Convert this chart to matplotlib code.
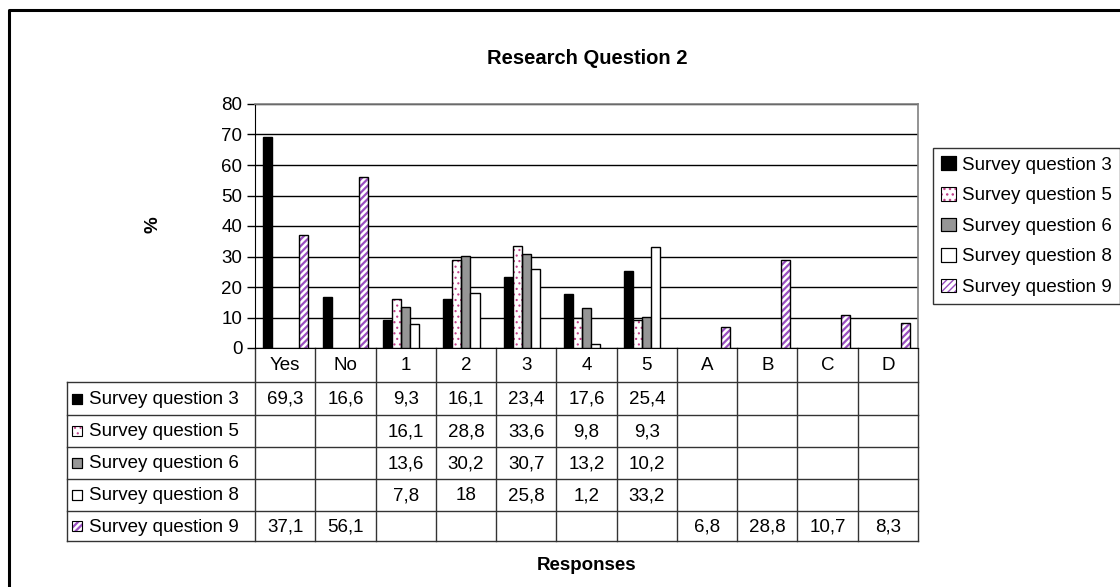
import numpy as np
import matplotlib
matplotlib.use("Agg")
import matplotlib.pyplot as plt
from matplotlib.patches import Rectangle
from matplotlib.legend_handler import HandlerTuple

# ---- data -------------------------------------------------------------
categories = ["Yes", "No", "1", "2", "3", "4", "5", "A", "B", "C", "D"]
series_names = ["Survey question 3", "Survey question 5", "Survey question 6",
                "Survey question 8", "Survey question 9"]
nan = np.nan
q3 = [69.3, 16.6, 9.3, 16.1, 23.4, 17.6, 25.4, nan, nan, nan, nan]
q5 = [nan, nan, 16.1, 28.8, 33.6, 9.8, 9.3, nan, nan, nan, nan]
q6 = [nan, nan, 13.6, 30.2, 30.7, 13.2, 10.2, nan, nan, nan, nan]
q8 = [nan, nan, 7.8, 18, 25.8, 1.2, 33.2, nan, nan, nan, nan]
q9 = [37.1, 56.1, nan, nan, nan, nan, nan, 6.8, 28.8, 10.7, 8.3]
series = [q3, q5, q6, q8, q9]
y_ticks = [0, 10, 20, 30, 40, 50, 60, 70, 80]

# ---- styles -----------------------------------------------------------
styles = [
    dict(face="black", hatch=None, hcolor=None, hlw=1.0),
    dict(face="white", hatch="...", hcolor="#c0408a", hlw=0.8),
    dict(face="#969696", hatch=None, hcolor=None, hlw=1.0),
    dict(face="white", hatch=None, hcolor=None, hlw=1.0),
    dict(face="white", hatch="/////", hcolor="#9a4fc0", hlw=1.6),
]

plt.rcParams["font.family"] = ["Liberation Sans", "DejaVu Sans"]
FS = 13.5

W, H = 1120, 587
fig = plt.figure(figsize=(W / 100, H / 100), dpi=100)

# overlay in pixel coordinates for frame and table
ov = fig.add_axes([0, 0, 1, 1], zorder=0)
ov.set_xlim(0, W)
ov.set_ylim(H, 0)
ov.axis("off")

# plot area
x0, x1, ytop, ybot = 255, 918, 104, 348
ax = fig.add_axes([x0 / W, (H - ybot) / H, (x1 - x0) / W, (ybot - ytop) / H], zorder=2)
ax.set_facecolor("none")


def styled_rect(xy, w, h, st, lw=0.8):
    """Patch pair (fill/hatch + black outline) for legend-style markers."""
    with plt.rc_context({"hatch.linewidth": st["hlw"]}):
        fill = Rectangle(xy, w, h, facecolor=st["face"],
                         edgecolor=st["hcolor"] or "black",
                         hatch=st["hatch"], linewidth=0 if st["hatch"] else lw)
    edge = Rectangle(xy, w, h, facecolor="none", edgecolor="black", linewidth=lw)
    return fill, edge


n = len(categories)
xs = np.arange(n)
bw = 0.15
for k, (vals, st) in enumerate(zip(series, styles)):
    v = np.array(vals, dtype=float)
    pos = xs + (k - 2) * bw
    if st["hatch"]:
        with plt.rc_context({"hatch.linewidth": st["hlw"]}):
            ax.bar(pos, v, bw, color=st["face"], edgecolor=st["hcolor"],
                   hatch=st["hatch"], linewidth=0, zorder=3)
        ax.bar(pos, v, bw, color="none", edgecolor="black", linewidth=1.0, zorder=4)
    else:
        ax.bar(pos, v, bw, color=st["face"], edgecolor="black", linewidth=1.0, zorder=3)

ax.set_xlim(-0.5, n - 0.5)
ax.set_ylim(0, 80)
ax.set_yticks(y_ticks)
ax.set_yticklabels([str(t) for t in y_ticks], fontsize=FS)
ax.set_xticks([])
ax.tick_params(axis="y", direction="out", length=6, width=1, pad=3)
ax.yaxis.grid(True, color="black", linewidth=1.0, zorder=0)
ax.set_axisbelow(True)
for side in ["top", "right"]:
    ax.spines[side].set_color("#808080")
    ax.spines[side].set_linewidth(1.2)
ax.spines["left"].set_color("black")
ax.spines["bottom"].set_color("black")

# legend
handles = [styled_rect((0, 0), 1, 1, st) for st in styles]
leg = fig.legend(handles, series_names, loc="upper left",
                 handler_map={tuple: HandlerTuple(ndivide=1)},
                 bbox_to_anchor=(933 / W, 1 - 148 / H), fontsize=FS,
                 frameon=True, fancybox=False, edgecolor="black",
                 handlelength=0.75, handleheight=0.75, handletextpad=0.35,
                 labelspacing=0.7, borderpad=0.45, borderaxespad=0)
leg.get_frame().set_linewidth(1.0)

# texts
fig.text(587 / W, 1 - 58 / H, "Research Question 2", ha="center", va="center",
         fontsize=14.5, fontweight="bold")
fig.text(153 / W, 1 - 225 / H, "%", ha="center", va="center", rotation=90,
         fontsize=FS, fontweight="bold")
fig.text(587 / W, 1 - 566 / H, "Responses", ha="center", va="center",
         fontsize=FS, fontweight="bold")

# outer frame
ov.plot([9, 9, W + 5], [H + 5, 10, 10], color="black", lw=2.2, solid_capstyle="butt",
        clip_on=False)

# ---- data table under the plot --------------------------------------
cw = (x1 - x0) / n
row_y = [348, 382, 415, 447, 479, 511, 541]
lab_x = 67
lc = "#333333"
for y in row_y[1:]:
    ov.plot([lab_x, x1], [y, y], color=lc, lw=1.0)
for i in range(n + 1):
    ov.plot([x0 + i * cw] * 2, [row_y[0], row_y[-1]], color=lc, lw=1.0)
ov.plot([lab_x, lab_x], [row_y[1], row_y[-1]], color=lc, lw=1.0)

for i, c in enumerate(categories):
    ov.text(x0 + (i + 0.5) * cw, (row_y[0] + row_y[1]) / 2 + 1, c,
            ha="center", va="center", fontsize=FS)


def fmt(v):
    return f"{v:g}".replace(".", ",")


for r, (name, vals, st) in enumerate(zip(series_names, series, styles)):
    ya, yb = row_y[r + 1], row_y[r + 2]
    yc = (ya + yb) / 2 + 1
    sq = 10
    for p in styled_rect((72, yc - sq / 2 - 1), sq, sq, st):
        ov.add_patch(p)
    ov.text(89, yc, name, ha="left", va="center", fontsize=FS)
    for i, v in enumerate(vals):
        if not np.isnan(v):
            ov.text(x0 + (i + 0.5) * cw, yc, fmt(v), ha="center", va="center",
                    fontsize=FS)

fig.savefig("out.png", dpi=100)
